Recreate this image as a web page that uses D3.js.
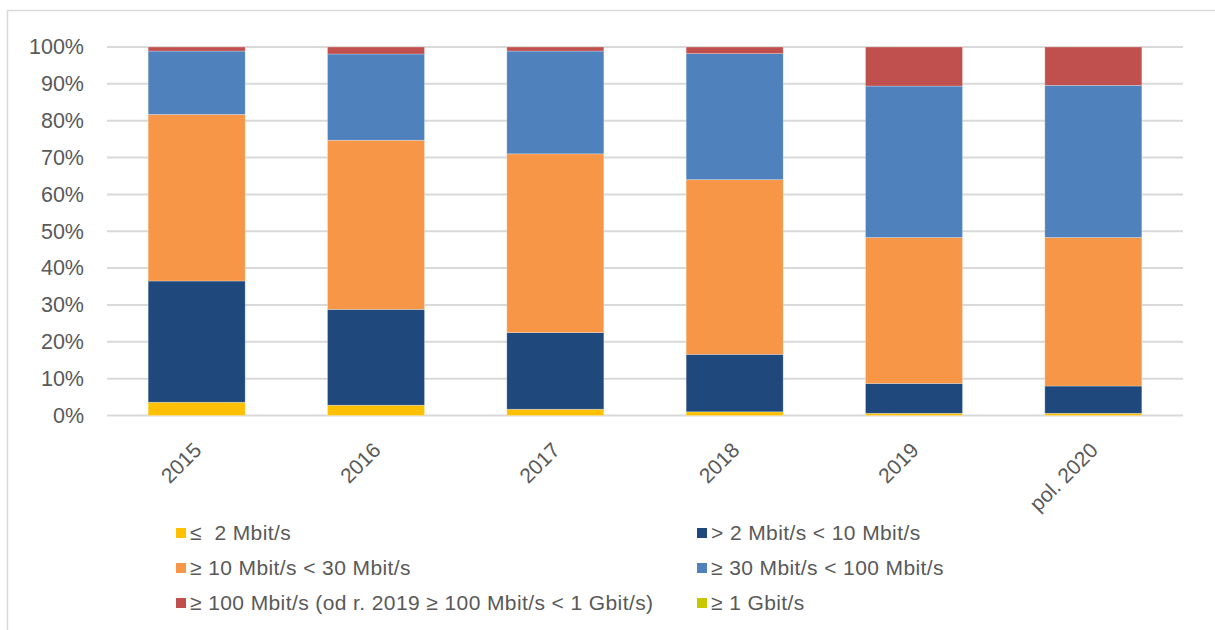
<!DOCTYPE html>
<html>
<head>
<meta charset="utf-8">
<script src="https://cdn.jsdelivr.net/npm/d3@7"></script>
<style>
  html, body { margin: 0; padding: 0; background: #fff; }
  svg { display: block; font-family: "Liberation Sans", Arial, sans-serif; }
  .legend text { white-space: pre; }
</style>
</head>
<body>
<svg id="chart" width="1215" height="630"></svg>
<script>
// Share of connections by speed band (percent of total)
const categories = ["2015", "2016", "2017", "2018", "2019", "pol. 2020"];
const seriesNames = [
  "≤  2 Mbit/s",
  "> 2 Mbit/s < 10 Mbit/s",
  "≥ 10 Mbit/s < 30 Mbit/s",
  "≥ 30 Mbit/s < 100 Mbit/s",
  "≥ 100 Mbit/s (od r. 2019 ≥ 100 Mbit/s < 1 Gbit/s)",
  "≥ 1 Gbit/s"
];
const upTo2     = [3.6, 2.8, 1.7, 1.0, 0.6, 0.6];
const from2to10 = [32.9, 26.0, 20.8, 15.6, 8.1, 7.4];
const from10to30 = [45.2, 45.9, 48.5, 47.4, 39.6, 40.3];
const from30to100 = [17.2, 23.4, 27.9, 34.2, 41.1, 41.3];
const from100 = [1.1, 1.9, 1.1, 1.8, 10.6, 10.4];
const from1G = [0, 0, 0, 0, 0, 0];
const yTicks = [0, 10, 20, 30, 40, 50, 60, 70, 80, 90, 100];

const seriesValues = [upTo2, from2to10, from10to30, from30to100, from100, from1G];
const colors = ["#FFC000", "#1F497D", "#F79646", "#4F81BD", "#C0504D", "#C8C800"];

const svg = d3.select("#chart");

// outer frame (top and left edges)
svg.append("line").attr("x1", 7).attr("x2", 1215).attr("y1", 10.5).attr("y2", 10.5)
  .attr("stroke", "#d9d9d9").attr("stroke-width", 1.5);
svg.append("line").attr("x1", 7.5).attr("x2", 7.5).attr("y1", 10).attr("y2", 630)
  .attr("stroke", "#d9d9d9").attr("stroke-width", 1.5);

const plot = { left: 107, right: 1183, top: 47, bottom: 415.5 };

const x = d3.scaleBand().domain(categories)
  .range([plot.left, plot.right]).paddingInner(0.459).paddingOuter(0.2295);
const y = d3.scaleLinear().domain([0, 100]).range([plot.bottom, plot.top]);

// gridlines
svg.append("g").selectAll("line").data(yTicks).join("line")
  .attr("x1", plot.left).attr("x2", plot.right)
  .attr("y1", d => y(d)).attr("y2", d => y(d))
  .attr("stroke", "#d9d9d9").attr("stroke-width", 2);

// y axis labels
const yAxis = d3.axisLeft(y).tickValues(yTicks).tickFormat(d => d + "%").tickSize(0).tickPadding(0);
const gy = svg.append("g").attr("transform", `translate(84,0)`).call(yAxis);
gy.select(".domain").remove();
gy.selectAll("text").attr("fill", "#595959").attr("font-size", 21.5)
  .attr("font-family", "Liberation Sans, Arial, sans-serif");

// stacked bars
const rows = categories.map((c, i) => {
  const r = { cat: c };
  seriesValues.forEach((s, k) => r["s" + k] = s[i]);
  return r;
});
const stack = d3.stack().keys(seriesValues.map((s, k) => "s" + k));
const layers = stack(rows);

svg.append("g").selectAll("g").data(layers).join("g")
  .attr("fill", (d, k) => colors[k])
  .selectAll("rect").data(d => d).join("rect")
  .attr("x", d => x(d.data.cat))
  .attr("width", x.bandwidth())
  .attr("y", d => y(d[1]))
  .attr("height", d => Math.max(0, y(d[0]) - y(d[1])))
  .attr("stroke", "#ffffff").attr("stroke-opacity", 0.35).attr("stroke-width", 0.75);

// x axis labels, rotated
const xAxis = d3.axisBottom(x).tickSize(0).tickPadding(0);
const gx = svg.append("g").attr("transform", `translate(0,${plot.bottom})`).call(xAxis);
gx.select(".domain").remove();
gx.selectAll("text")
  .attr("fill", "#595959").attr("font-size", 21)
  .attr("font-family", "Liberation Sans, Arial, sans-serif")
  .attr("text-anchor", "end")
  .attr("dy", 0)
  .attr("transform", "translate(6,36) rotate(-45)");

// legend
const legendPos = [
  [176, 533], [697, 533],
  [176, 568], [697, 568],
  [176, 603], [697, 603]
];
const lg = svg.append("g").attr("class", "legend").selectAll("g").data(seriesNames).join("g")
  .attr("transform", (d, i) => `translate(${legendPos[i][0]},${legendPos[i][1]})`);
lg.append("rect").attr("x", 0).attr("y", -5).attr("width", 10).attr("height", 10)
  .attr("fill", (d, i) => colors[i]);
lg.append("text").attr("x", 14).attr("y", 0).attr("dy", "0.35em")
  .attr("fill", "#595959").attr("font-size", 21)
  .attr("letter-spacing", 0.4)
  .text(d => d);
</script>
</body>
</html>
